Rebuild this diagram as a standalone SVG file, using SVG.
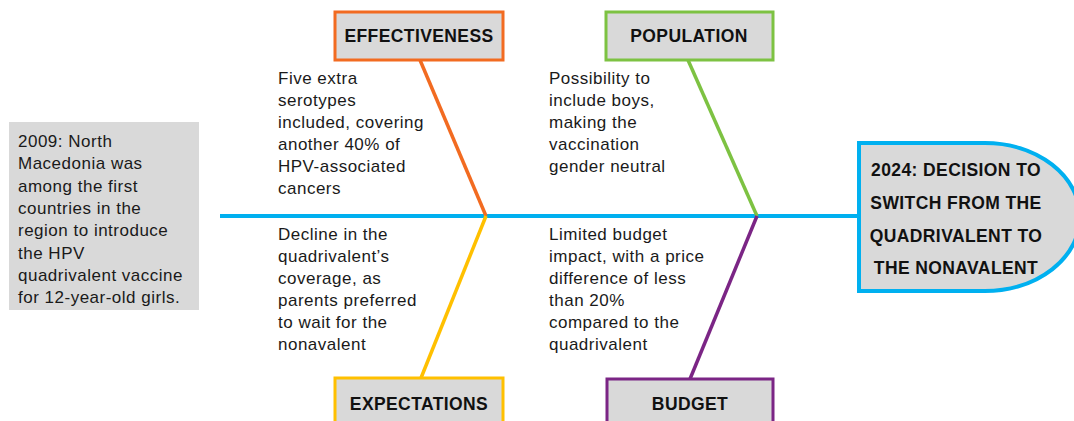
<svg xmlns="http://www.w3.org/2000/svg" width="1074" height="421" viewBox="0 0 1074 421">
  <style>
    .body { font-family: "Liberation Sans", Arial, sans-serif; font-size: 17px; letter-spacing: 0.5px; fill: #1a1a1a; }
    .label { font-family: "Liberation Sans", Arial, sans-serif; font-size: 17.5px; font-weight: bold; letter-spacing: 0.4px; fill: #111; text-anchor: middle; }
    .box { fill: #D9D9D9; stroke-width: 3; }
    .bone { fill: none; stroke-width: 3.5; }
  </style>

  <!-- spine and bones -->
  <g id="connectors">
    <line x1="220" y1="216" x2="860" y2="216" stroke="#00B0F0" stroke-width="4"/>
    <line class="bone" x1="420" y1="60" x2="486" y2="216" stroke="#F26B21"/>
    <line class="bone" x1="688" y1="60" x2="757" y2="216" stroke="#7DC242"/>
    <line class="bone" x1="486" y1="216" x2="421" y2="378" stroke="#FFC000"/>
    <line class="bone" x1="757" y1="216" x2="690" y2="379" stroke="#7B2585"/>
  </g>

  <!-- background note -->
  <g id="history">
    <rect x="9" y="122" width="190" height="188" fill="#D9D9D9"/>
    <text class="body">
      <tspan x="18" y="147">2009: North</tspan>
      <tspan x="18" y="169">Macedonia was</tspan>
      <tspan x="18" y="192">among the first</tspan>
      <tspan x="18" y="214">countries in the</tspan>
      <tspan x="18" y="236">region to introduce</tspan>
      <tspan x="18" y="259">the HPV</tspan>
      <tspan x="18" y="281">quadrivalent vaccine</tspan>
      <tspan x="18" y="303">for 12-year-old girls.</tspan>
    </text>
  </g>

  <!-- category boxes -->
  <g id="effectiveness">
    <rect class="box" x="335" y="12" width="168" height="48" stroke="#F26B21"/>
    <text class="label" x="419" y="42">EFFECTIVENESS</text>
  </g>
  <g id="population">
    <rect class="box" x="606" y="12" width="167" height="48" stroke="#7DC242"/>
    <text class="label" x="689" y="42">POPULATION</text>
  </g>
  <g id="expectations">
    <rect class="box" x="335" y="378" width="168" height="50" stroke="#FFC000"/>
    <text class="label" x="419" y="410">EXPECTATIONS</text>
  </g>
  <g id="budget">
    <rect class="box" x="607" y="379" width="166" height="50" stroke="#7B2585"/>
    <text class="label" x="690" y="410">BUDGET</text>
  </g>

  <!-- cause descriptions -->
  <g id="effectiveness-note">
    <text class="body">
      <tspan x="278" y="84">Five extra</tspan>
      <tspan x="278" y="106">serotypes</tspan>
      <tspan x="278" y="128">included, covering</tspan>
      <tspan x="278" y="150">another 40% of</tspan>
      <tspan x="278" y="172">HPV-associated</tspan>
      <tspan x="278" y="194">cancers</tspan>
    </text>
  </g>
  <g id="population-note">
    <text class="body">
      <tspan x="549" y="84">Possibility to</tspan>
      <tspan x="549" y="106">include boys,</tspan>
      <tspan x="549" y="128">making the</tspan>
      <tspan x="549" y="150">vaccination</tspan>
      <tspan x="549" y="172">gender neutral</tspan>
    </text>
  </g>
  <g id="expectations-note">
    <text class="body">
      <tspan x="278" y="240">Decline in the</tspan>
      <tspan x="278" y="262">quadrivalent’s</tspan>
      <tspan x="278" y="284">coverage, as</tspan>
      <tspan x="278" y="306">parents preferred</tspan>
      <tspan x="278" y="328">to wait for the</tspan>
      <tspan x="278" y="350">nonavalent</tspan>
    </text>
  </g>
  <g id="budget-note">
    <text class="body">
      <tspan x="549" y="240">Limited budget</tspan>
      <tspan x="549" y="262">impact, with a price</tspan>
      <tspan x="549" y="284">difference of less</tspan>
      <tspan x="549" y="306">than 20%</tspan>
      <tspan x="549" y="328">compared to the</tspan>
      <tspan x="549" y="350">quadrivalent</tspan>
    </text>
  </g>

  <!-- fish head: outcome -->
  <g id="decision">
    <path d="M859,143 H985 A95,74 0 0 1 985,291 H859 Z" fill="#D9D9D9" stroke="#00B0F0" stroke-width="4"/>
    <text class="label" x="956" y="176">2024: DECISION TO</text>
    <text class="label" x="956" y="209">SWITCH FROM THE</text>
    <text class="label" x="956" y="242">QUADRIVALENT TO</text>
    <text class="label" x="956" y="274">THE NONAVALENT</text>
  </g>
</svg>
